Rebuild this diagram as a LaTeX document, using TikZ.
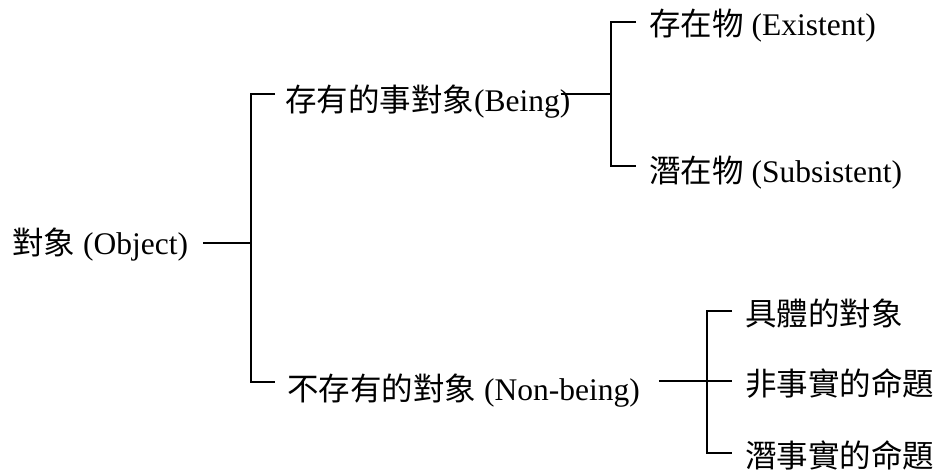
\documentclass[tikz,border=0pt]{standalone}
\usepackage{fontspec}
\setmainfont{Liberation Serif}
\newfontfamily\cjk{Noto Sans CJK TC}
\usetikzlibrary{calc}
\begin{document}
\begin{tikzpicture}[x=1pt,y=1pt,
  lbl/.style={anchor=base west,inner sep=0pt,font=\fontsize{31.5}{31.5}\selectfont},
  ln/.style={line width=1.6pt}]
\useasboundingbox (0,0) rectangle (939,472);
% texts
\node[lbl] (obj) at (12,218) {{\cjk 對象} (Object)};
\node[lbl] (being) at (285,360) {{\cjk 存有的事對象}(Being)};
\node[lbl] (exist) at (649,436) {{\cjk 存在物} (Existent)};
\node[lbl] (subs) at (649,290) {{\cjk 潛在物} (Subsistent)};
\node[lbl] (non) at (287,72) {{\cjk 不存有的對象} (Non-being)};
\node[lbl] (c1) at (745,147) {{\cjk 具體的對象}};
\node[lbl] (c2) at (745,77) {{\cjk 非事實的命題}};
\node[lbl] (c3) at (745,5) {{\cjk 潛事實的命題}};
% junctions
\coordinate (j1) at (251,229);
\coordinate (j1t) at (251,378);
\coordinate (j1b) at (251,90);
\coordinate (a1t) at (275,378);
\coordinate (a1b) at (275,90);
\coordinate (j2) at (611,378);
\coordinate (j2t) at (611,450);
\coordinate (j2b) at (611,306);
\coordinate (a2t) at (636,450);
\coordinate (a2b) at (636,306);
\coordinate (j3) at (707,91);
\coordinate (j3t) at (707,161);
\coordinate (j3b) at (707,19);
\coordinate (a3t) at (732,161);
\coordinate (a3m) at (732,91);
\coordinate (a3b) at (732,19);
% free ends of the connectors beside the texts
\coordinate (s1) at ($(obj.east |- j1)+(15,0)$);
\coordinate (s2) at ($(being.east |- j2)+(-10,0)$);
\coordinate (s3) at ($(non.east |- j3)+(19,0)$);
% connectors
\draw[ln] (s1) -- (j1);
\draw[ln] (a1t) -- (j1t) -- (j1b) -- (a1b);
\draw[ln] (s2) -- (j2);
\draw[ln] (a2t) -- (j2t) -- (j2b) -- (a2b);
\draw[ln] (s3) -- (j3);
\draw[ln] (a3t) -- (j3t) -- (j3b) -- (a3b);
\draw[ln] (j3) -- (a3m);
\end{tikzpicture}
\end{document}
